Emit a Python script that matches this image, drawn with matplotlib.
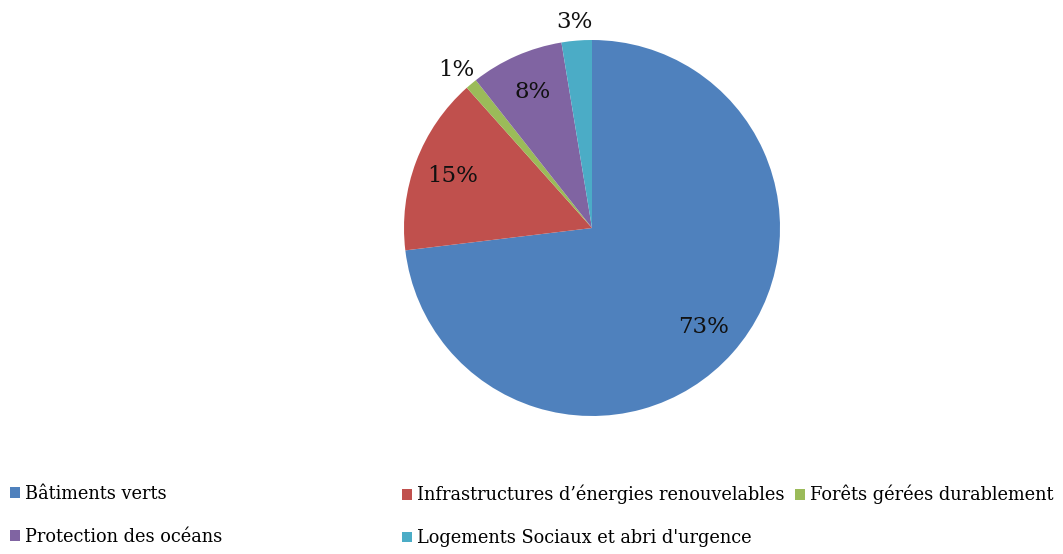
import matplotlib.pyplot as plt
import numpy as np

# parts of the portfolio (in %)
categories = ["Bâtiments verts",
              "Infrastructures d’énergies renouvelables",
              "Forêts gérées durablement",
              "Protection des océans",
              "Logements Sociaux et abri d'urgence"]
shares = [73.1, 15.3, 1.0, 8.0, 2.6]
colors = ["#4F81BD", "#C0504D", "#9BBB59", "#8064A2", "#4BACC6"]
outside = [False, False, True, False, True]  # small slices get their label outside

plt.rcParams['font.family'] = ['DejaVu Serif']

fig = plt.figure(figsize=(10.63, 5.54), dpi=100)
# square axes so that the pie sits at the same place as in the original
ax = fig.add_axes([404 / 1063, 138 / 554, 376 / 1063, 376 / 554])
wedges, _ = ax.pie(shares, colors=colors, startangle=90, counterclock=False,
                   radius=1, wedgeprops=dict(linewidth=0))
ax.set_xlim(-1, 1)
ax.set_ylim(-1, 1)
ax.axis("off")

for w, v, out in zip(wedges, shares, outside):
    mid = np.deg2rad((w.theta1 + w.theta2) / 2)
    r = 1.12 if out else 0.79
    ax.text(r * np.cos(mid), r * np.sin(mid) - (0.02 if out else 0), f"{round(v):.0f}%",
            ha="center", va="center", fontsize=16.5, color="#111111")

# legend: Excel uses equal column widths, so one legend per column
cols = [[0, 3], [1, 4], [2]]
xs = [10, 402, 795]
for idx, x in zip(cols, xs):
    fig.legend([wedges[i] for i in idx], [categories[i] for i in idx],
               loc="upper left", bbox_to_anchor=(x / 1063, 1 - 485 / 554),
               frameon=False, fontsize=12.8, borderpad=0, borderaxespad=0,
               handlelength=0.55, handleheight=0.55, handletextpad=0.3,
               labelspacing=1.4)

fig.savefig("out.png", dpi=100)
